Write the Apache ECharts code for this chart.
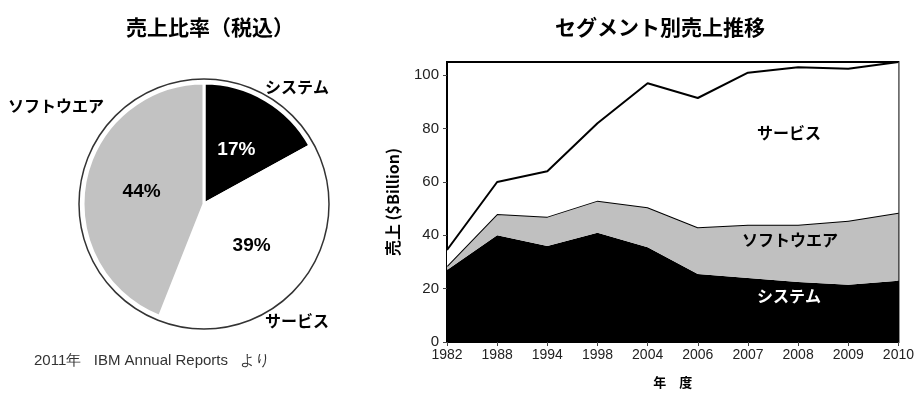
<!DOCTYPE html>
<html>
<head>
<meta charset="utf-8">
<script src="https://cdn.jsdelivr.net/npm/echarts@6/dist/echarts.min.js"></script>
<style>
  html, body { margin: 0; padding: 0; background: #fff; }
  #main { width: 917px; height: 394px; }
</style>
</head>
<body>
<div id="main"></div>
<script>
// 売上比率（2011）
var pieNames = ['システム', 'サービス', 'ソフトウエア']
var pieValues = [17, 39, 44]

// セグメント別売上推移 ($Billion, 積み上げ)
var years = ['1982', '1988', '1994', '1998', '2004', '2006', '2007', '2008', '2009', '2010']
var systemSales = [27, 40, 36, 41, 35.5, 25.5, 24, 22.5, 21.5, 23]
var softwareSales = [1.5, 8, 11, 12, 15, 17.5, 20, 21.5, 24, 25.5]
var serviceSales = [6, 12, 17, 29, 46.5, 48.5, 57, 59, 57, 56.5]

var jp = '"Noto Sans CJK JP", sans-serif'
var latin = '"Liberation Sans", Arial, sans-serif'

var pieColors = ['#000000', '#ffffff', '#c2c2c2']
var pieLabelColors = ['#ffffff', '#000000', '#000000']
var pieData = pieNames.map(function(n, i) {
  return {
    name: n,
    value: pieValues[i],
    itemStyle: { color: pieColors[i] },
    label: { color: pieLabelColors[i] }
  }
})

var myChart = echarts.init(document.getElementById('main'))
var option = {
  backgroundColor: '#fff',
  animation: false,
  title: [
    {
      text: '売上比率（税込）',
      left: 205,
      top: 12,
      textAlign: 'center',
      textStyle: { fontFamily: jp, fontWeight: 'bold', fontSize: 21, color: '#000' }
    },
    {
      text: 'セグメント別売上推移',
      left: 655,
      top: 12,
      textAlign: 'center',
      textStyle: { fontFamily: jp, fontWeight: 'bold', fontSize: 21, color: '#000' }
    }
  ],
  grid: {
    left: 447,
    right: 17,
    top: 62,
    bottom: 52,
    show: true,
    borderColor: '#000',
    borderWidth: 2,
    backgroundColor: 'transparent'
  },
  xAxis: {
    type: 'category',
    boundaryGap: false,
    data: years,
    name: '年　度',
    nameLocation: 'middle',
    nameGap: 34,
    nameTextStyle: { fontFamily: jp, fontWeight: 'bold', fontSize: 13, color: '#000' },
    axisLine: { lineStyle: { color: '#000', width: 1 } },
    axisTick: { length: 4, lineStyle: { color: '#444' } },
    axisLabel: { fontFamily: latin, fontSize: 14, color: '#222', margin: 6 }
  },
  yAxis: {
    type: 'value',
    min: 0,
    max: 105,
    interval: 20,
    name: '売上 ($Billion)',
    nameLocation: 'middle',
    nameGap: 46,
    nameTextStyle: { fontFamily: jp, fontWeight: 'bold', fontSize: 16, color: '#000' },
    splitLine: { show: false },
    axisLine: { show: true, lineStyle: { color: '#000', width: 2 } },
    axisTick: { show: true, length: 4, lineStyle: { color: '#444' } },
    axisLabel: { fontFamily: latin, fontSize: 15, color: '#222', margin: 8, showMaxLabel: false }
  },
  series: [
    {
      type: 'pie',
      silent: true,
      center: [204, 204],
      radius: [0, 125],
      z: 1,
      label: { show: false },
      labelLine: { show: false },
      itemStyle: { color: '#fff', borderColor: '#333', borderWidth: 1.5 },
      data: [{ name: 'ring', value: 1 }]
    },
    {
      name: '売上比率',
      type: 'pie',
      center: [204, 204],
      radius: [0, 121],
      startAngle: 90,
      clockwise: true,
      z: 2,
      itemStyle: { borderColor: '#fff', borderWidth: 3 },
      label: {
        show: true,
        position: 'inside',
        formatter: '{c}%',
        fontFamily: latin,
        fontWeight: 'bold',
        fontSize: 19
      },
      labelLine: { show: false },
      data: pieData
    },
    {
      name: 'システム',
      type: 'line',
      stack: 'total',
      symbol: 'none',
      lineStyle: { width: 0 },
      areaStyle: { color: '#000', opacity: 1 },
      z: 3,
      data: systemSales
    },
    {
      name: 'ソフトウエア',
      type: 'line',
      stack: 'total',
      symbol: 'none',
      lineStyle: { color: '#000', width: 2 },
      areaStyle: { color: '#c0c0c0', opacity: 1 },
      z: 4,
      data: softwareSales
    },
    {
      name: 'サービス',
      type: 'line',
      stack: 'total',
      symbol: 'none',
      lineStyle: { color: '#000', width: 2 },
      areaStyle: { color: '#fff', opacity: 1 },
      z: 5,
      data: serviceSales
    }
  ],
  graphic: [
    // 円グラフの項目名
    { type: 'text', left: 265, top: 79, z: 10, style: { text: 'システム', font: 'bold 16px ' + jp, fill: '#000' } },
    { type: 'text', left: 8, top: 98, z: 10, style: { text: 'ソフトウエア', font: 'bold 16px ' + jp, fill: '#000' } },
    { type: 'text', left: 265, top: 313, z: 10, style: { text: 'サービス', font: 'bold 16px ' + jp, fill: '#000' } },
    { type: 'text', left: 34, top: 353, z: 10, style: { text: '2011年   IBM Annual Reports   より', font: '15px ' + latin, fill: '#333' } },
    // 面グラフ内の項目名
    { type: 'text', left: 757, top: 125, z: 10, style: { text: 'サービス', font: 'bold 16px ' + jp, fill: '#000' } },
    { type: 'text', left: 742, top: 232, z: 10, style: { text: 'ソフトウエア', font: 'bold 16px ' + jp, fill: '#000' } },
    { type: 'text', left: 757, top: 288, z: 10, style: { text: 'システム', font: 'bold 16px ' + jp, fill: '#fff' } }
  ]
}
myChart.setOption(option)
</script>
</body>
</html>
